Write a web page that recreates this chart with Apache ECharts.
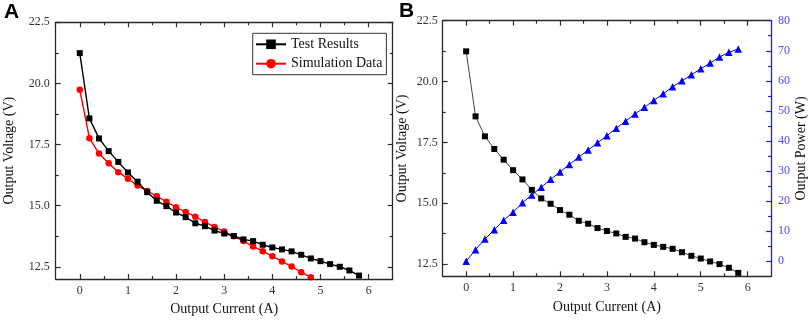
<!DOCTYPE html>
<html>
<head>
<meta charset="utf-8">
<script src="https://cdn.jsdelivr.net/npm/echarts@6/dist/echarts.min.js"></script>
<style>
html,body{margin:0;padding:0;background:#fff;}
#c{width:809px;height:321px;}
</style>
</head>
<body>
<div id="c"></div>
<script>
// ---- data ----
const current = [0, 0.2, 0.4, 0.6, 0.8, 1.0, 1.2, 1.4, 1.6, 1.8, 2.0, 2.2, 2.4, 2.6, 2.8, 3.0, 3.2, 3.4, 3.6, 3.8, 4.0, 4.2, 4.4, 4.6, 4.8, 5.0, 5.2, 5.4, 5.6, 5.8];
const testVoltage = [21.24, 18.57, 17.75, 17.23, 16.79, 16.36, 15.98, 15.55, 15.20, 14.98, 14.72, 14.53, 14.28, 14.16, 13.98, 13.86, 13.76, 13.62, 13.55, 13.40, 13.29, 13.21, 13.13, 12.99, 12.84, 12.73, 12.61, 12.50, 12.35, 12.14];
const simCurrent = [0, 0.2, 0.4, 0.6, 0.8, 1.0, 1.2, 1.4, 1.6, 1.8, 2.0, 2.2, 2.4, 2.6, 2.8, 3.0, 3.2, 3.4, 3.6, 3.8, 4.0, 4.2, 4.4, 4.6, 4.8];
const simVoltage = [19.74, 17.76, 17.13, 16.73, 16.37, 16.10, 15.82, 15.60, 15.38, 15.16, 14.93, 14.74, 14.55, 14.33, 14.13, 13.94, 13.75, 13.55, 13.33, 13.14, 12.93, 12.72, 12.51, 12.28, 12.07];
const outputPower = [0, 3.86, 7.39, 10.48, 13.68, 16.33, 19.42, 22.07, 24.6, 27.25, 29.7, 32.2, 34.65, 36.97, 39.4, 41.7, 44.25, 46.6, 49.0, 51.2, 53.5, 55.7, 58.0, 60.0, 62.0, 64.0, 65.9, 67.9, 69.5, 70.6];
const xTicks = [0, 1, 2, 3, 4, 5, 6];
const xMinorTicks = [0.5, 1.5, 2.5, 3.5, 4.5, 5.5];
const vTicks = [12.5, 15.0, 17.5, 20.0, 22.5];
const vMinorTicks = [13.75, 16.25, 18.75, 21.25];
const pTicks = [0, 10, 20, 30, 40, 50, 60, 70, 80];
const pMinorTicks = [5, 15, 25, 35, 45, 55, 65, 75];

const pairs = (xs, ys) => xs.map((x, i) => [x, ys[i]]);

const SERIF = 'Liberation Serif';
const FRAME = '#2a2a2a';
const BLUE = '#1a1aff';

function mkAxis(o) {
  return {
    type: 'value',
    gridIndex: o.grid,
    position: o.pos,
    min: o.min, max: o.max,
    axisLine: {show: o.line !== false, onZero: false, lineStyle: {color: o.color || FRAME, width: 1.3}},
    axisTick: {show: true, inside: true, length: o.len, customValues: o.ticks, lineStyle: {color: o.color || FRAME, width: 1.2}},
    axisLabel: o.labels ? {
      show: true, customValues: o.ticks, fontFamily: SERIF, fontSize: 12,
      color: o.labelColor || '#333', margin: o.margin,
      formatter: o.fmt
    } : {show: false},
    splitLine: {show: false},
    name: o.name || '',
    nameLocation: 'middle',
    nameGap: o.nameGap,
    nameRotate: o.nameRotate,
    nameTextStyle: {fontFamily: SERIF, fontSize: 14, color: '#111'},
    z: 5
  };
}

const xRange = {min: -0.5, max: 6.5};
const vRange = {min: 12, max: 22.5};
const pRange = {min: -5, max: 80};
const xFmt = v => String(v);
const vFmt = v => v.toFixed(1);

const xAxes = [];
const yAxes = [];
[0, 1].forEach(g => {
  xAxes.push(mkAxis({grid: g, pos: 'bottom', ...xRange, ticks: xTicks, len: 5, labels: true, fmt: xFmt, margin: 6,
    name: 'Output Current (A)', nameGap: g === 0 ? 23 : 24}));
  xAxes.push(mkAxis({grid: g, pos: 'bottom', ...xRange, ticks: xMinorTicks, len: 3, line: false}));
  xAxes.push(mkAxis({grid: g, pos: 'top', ...xRange, ticks: xTicks, len: 5}));
  xAxes.push(mkAxis({grid: g, pos: 'top', ...xRange, ticks: xMinorTicks, len: 3, line: false}));
});
// grid 0 y axes
yAxes.push(mkAxis({grid: 0, pos: 'left', ...vRange, ticks: vTicks, len: 5, labels: true, fmt: vFmt, margin: 6,
  name: 'Output Voltage (V)', nameGap: 39, nameRotate: 90}));
yAxes.push(mkAxis({grid: 0, pos: 'left', ...vRange, ticks: vMinorTicks, len: 3, line: false}));
yAxes.push(mkAxis({grid: 0, pos: 'right', ...vRange, ticks: vTicks, len: 5}));
yAxes.push(mkAxis({grid: 0, pos: 'right', ...vRange, ticks: vMinorTicks, len: 3, line: false}));
// grid 1 y axes
yAxes.push(mkAxis({grid: 1, pos: 'left', ...vRange, ticks: vTicks, len: 5, labels: true, fmt: vFmt, margin: 5,
  name: 'Output Voltage (V)', nameGap: 33, nameRotate: 90}));
yAxes.push(mkAxis({grid: 1, pos: 'left', ...vRange, ticks: vMinorTicks, len: 3, line: false}));
yAxes.push(mkAxis({grid: 1, pos: 'right', ...pRange, ticks: pTicks, len: 5, labels: true, fmt: xFmt, margin: 7,
  color: BLUE, labelColor: '#4a4aff', name: 'Output Power (W)', nameGap: 21, nameRotate: 90}));
yAxes.push(mkAxis({grid: 1, pos: 'right', ...pRange, ticks: pMinorTicks, len: 3, line: false, color: BLUE}));

const option = {
  animation: false,
  backgroundColor: '#fff',
  grid: [
    {left: 55.7, top: 22.3, width: 337, height: 259.4},
    {left: 442.7, top: 20.7, width: 329, height: 255.6}
  ],
  xAxis: xAxes,
  yAxis: yAxes,
  legend: {
    data: ['Test Results', 'Simulation Data'],
    orient: 'vertical',
    left: 252.7, top: 33.3,
    itemWidth: 30, itemHeight: 12, itemGap: 5.4,
    padding: [4, 4, 4, 2.3],
    borderColor: '#333', borderWidth: 1,
    textStyle: {fontFamily: SERIF, fontSize: 14, color: '#111'}
  },
  graphic: [
    {type: 'text', left: 4, top: 2, style: {text: 'A', font: 'bold 21px "Liberation Sans"', fill: '#000'}},
    {type: 'text', left: 399, top: 1, style: {text: 'B', font: 'bold 21px "Liberation Sans"', fill: '#000'}}
  ],
  series: [
    {name: 'Test Results', type: 'line', xAxisIndex: 0, yAxisIndex: 0, data: pairs(current, testVoltage),
      symbol: 'rect', symbolSize: 6, itemStyle: {color: '#000'}, lineStyle: {color: '#000', width: 1.4}, z: 3},
    {name: 'Simulation Data', type: 'line', xAxisIndex: 0, yAxisIndex: 0, data: pairs(simCurrent, simVoltage),
      symbol: 'circle', symbolSize: 6.5, itemStyle: {color: '#ff0000'}, lineStyle: {color: '#ff0000', width: 1.4}, z: 2},
    {name: 'Voltage', type: 'line', xAxisIndex: 4, yAxisIndex: 4, data: pairs(current, testVoltage),
      symbol: 'rect', symbolSize: 6, itemStyle: {color: '#000'}, lineStyle: {color: '#444', width: 1}},
    {name: 'Power', type: 'line', xAxisIndex: 4, yAxisIndex: 6, data: pairs(current, outputPower),
      symbol: 'triangle', symbolSize: 7.5, itemStyle: {color: '#0000ff'}, lineStyle: {color: '#0000ff', width: 1}}
  ]
};

const chart = echarts.init(document.getElementById('c'), null, {renderer: 'canvas'});
chart.setOption(option);
</script>
</body>
</html>
